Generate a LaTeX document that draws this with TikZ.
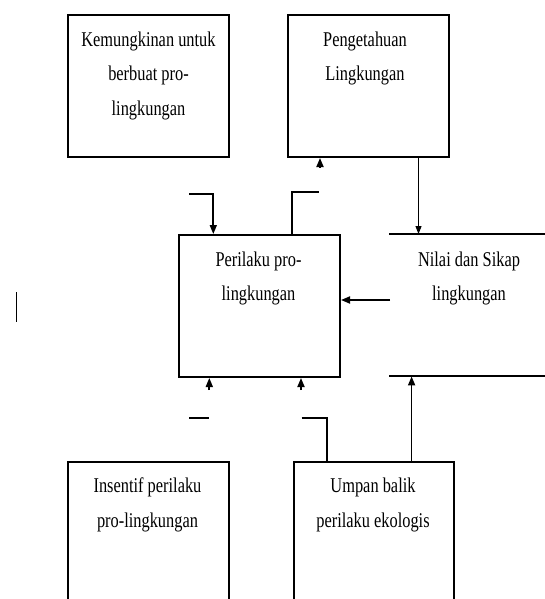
\documentclass[tikz,border=0pt]{standalone}
\usepackage{fontspec}
\setmainfont{Liberation Serif}[FakeStretch=0.78]
\usetikzlibrary{arrows.meta}
\begin{document}
\begin{tikzpicture}[x=1pt,y=-1pt,
  box/.style={draw, line width=2pt, inner sep=0pt, anchor=north west},
  openbox/.style={draw=none, inner sep=0pt, anchor=north west},
  txt/.style={inner sep=0pt, anchor=north, align=center, font=\fontsize{21}{34.5}\selectfont},
  conn/.style={line width=1.7pt},
  arr/.style={line width=1.7pt, -{Triangle[width=7pt,length=9pt]}},
  arrthin/.style={line width=1pt, -{Triangle[width=6pt,length=8pt]}},
  edge/.style={line width=2pt}]
\clip (0,0) rectangle (545,599);
\fill[white] (0,0) rectangle (545,599);
% boxes
\node[box, minimum width=161.7pt, minimum height=142pt] (b1) at (66.7,14) {};
\node[box, minimum width=161.5pt, minimum height=142pt] (b2) at (286.5,14) {};
\node[box, minimum width=161.4pt, minimum height=142pt] (b3) at (177.6,234) {};
\node[openbox, minimum width=175pt, minimum height=142pt] (b4) at (389.3,234) {};
\node[box, minimum width=161.7pt, minimum height=170pt] (b5) at (66.7,460.7) {};
\node[box, minimum width=160.3pt, minimum height=170pt] (b6) at (292.7,460.7) {};
\draw[edge] (b4.north west) -- (b4.north east);
\draw[edge] (b4.south west) -- (b4.south east);
% texts
\node[txt] (t1) at (148.5,31.7) {Kemungkinan untuk\\berbuat pro-\\lingkungan};
\node[txt] (t2) at (365,31.7) {Pengetahuan\\Lingkungan};
\node[txt] (t3) at (258.5,251.7) {Perilaku pro-\\lingkungan};
\node[txt] (t4) at (469,251.7) {Nilai dan Sikap\\lingkungan};
\node[txt] (t5) at (147.5,478) {Insentif perilaku\\pro-lingkungan};
\node[txt] (t6) at (373,478) {Umpan balik\\perilaku ekologis};
% helper coordinates
\coordinate (a1) at (320,166.5);
\coordinate (x419) at (418.5,0);
\coordinate (x213) at (213.3,0);
\coordinate (x292) at (292.3,0);
\coordinate (x327) at (326.7,0);
\coordinate (x411) at (411.6,0);
\coordinate (c1) at (189,194.3);
\coordinate (c2) at (319,191.7);
\coordinate (c3) at (390,300);
\coordinate (c4) at (209.3,390);
\coordinate (c5) at (301,390);
\coordinate (c6) at (189,418.3);
\coordinate (c7) at (209.3,418.3);
\coordinate (c8) at (301.5,418.3);
\coordinate (c9) at (16.7,292);
\coordinate (c10) at (16.7,321.7);
% connectors
\draw[arr] (a1) -- (a1 |- b2.south);
\draw[arrthin] (b2.south -| x419) -- (b4.north -| x419);
\draw[arr] (c1) -| (b3.north -| x213);
\draw[conn] (b3.north -| x292) |- (c2);
\draw[arr] (c3) -- (c3 -| b3.east);
\draw[arr] (c4) -- (c4 |- b3.south);
\draw[arr] (c5) -- (c5 |- b3.south);
\draw[conn] (c6) -- (c7);
\draw[conn] (c8) -| (b6.north -| x327);
\draw[arr] (b6.north -| x411) -- (b4.south -| x411);
\draw[line width=1.3pt] (c9) -- (c10);
\end{tikzpicture}
\end{document}
